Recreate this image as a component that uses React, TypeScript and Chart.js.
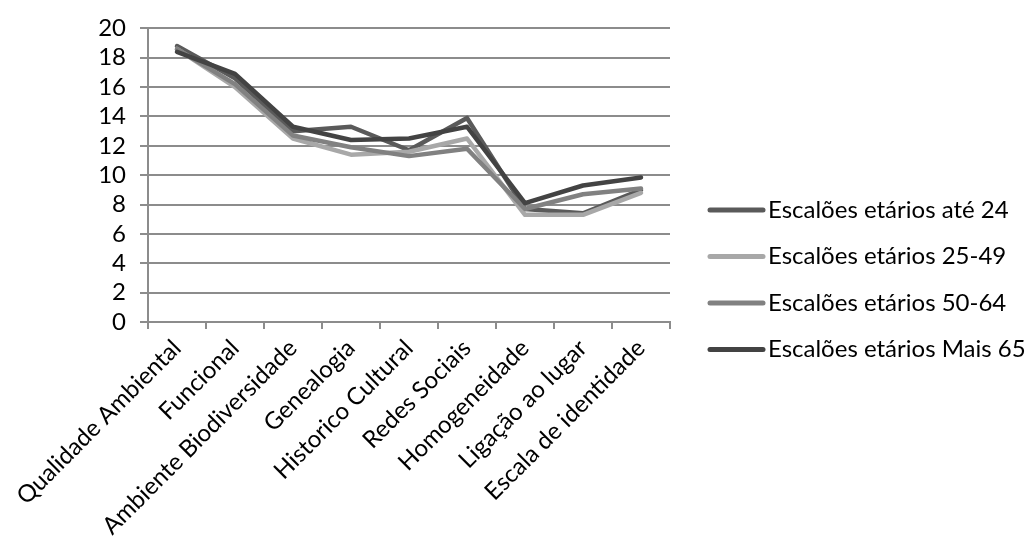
import React, { useEffect, useRef } from "react";
import { Chart, registerables } from "chart.js";

Chart.register(...registerables);

const categories = [
  "Qualidade Ambiental",
  "Funcional",
  "Ambiente Biodiversidade",
  "Genealogia",
  "Historico Cultural",
  "Redes Sociais",
  "Homogeneidade",
  "Ligação ao lugar",
  "Escala de identidade",
];

const seriesNames = [
  "Escalões etários até 24",
  "Escalões etários 25-49",
  "Escalões etários 50-64",
  "Escalões etários Mais 65",
];

const ate24 = [18.8, 16.6, 13.0, 13.3, 11.7, 13.9, 7.7, 7.4, 9.0];
const de25a49 = [18.6, 16.0, 12.5, 11.4, 11.6, 12.5, 7.3, 7.3, 8.8];
const de50a64 = [18.6, 16.2, 12.7, 11.9, 11.3, 11.8, 7.7, 8.7, 9.1];
const mais65 = [18.4, 16.9, 13.3, 12.4, 12.5, 13.3, 8.1, 9.3, 9.85];

const seriesValues = [ate24, de25a49, de50a64, mais65];
const seriesColors = ["#5a5a5a", "#a8a8a8", "#818181", "#434343"];

const yMin = 0;
const yMax = 20;
const yStep = 2;

const FONT = "Lato, 'Open Sans', sans-serif";
const FONT_SIZE = 24;

const legendPlugin = {
  id: "customLegend",
  afterDraw(chart: any) {
    const ctx = chart.ctx;
    const x0 = chart.chartArea.right + 38;
    const lineLen = 57;
    const startY = 210;
    const gap = 46.5;
    ctx.save();
    seriesNames.forEach((name, i) => {
      const y = startY + i * gap;
      ctx.strokeStyle = seriesColors[i];
      ctx.lineWidth = 5;
      ctx.lineCap = "round";
      ctx.beginPath();
      ctx.moveTo(x0 + 2, y);
      ctx.lineTo(x0 + lineLen - 2, y);
      ctx.stroke();
      ctx.fillStyle = "#000";
      ctx.font = `${FONT_SIZE}px ${FONT}`;
      ctx.textBaseline = "middle";
      ctx.textAlign = "left";
      ctx.fillText(name, x0 + lineLen + 3, y);
    });
    ctx.restore();
  },
};

export default function App() {
  const ref = useRef<HTMLCanvasElement | null>(null);

  useEffect(() => {
    if (!ref.current) return;
    const datasets = seriesNames.map((name, i) => ({
      label: name,
      data: seriesValues[i],
      borderColor: seriesColors[i],
      backgroundColor: seriesColors[i],
      borderWidth: 4.5,
      pointRadius: 0,
      tension: 0,
      fill: false,
      order: 3 - i,
      borderJoinStyle: "round" as const,
      borderCapStyle: "round" as const,
    }));

    const chart = new Chart(ref.current, {
      type: "line",
      data: { labels: categories, datasets },
      options: {
        animation: false,
        responsive: false,
        maintainAspectRatio: false,
        layout: { padding: { top: 24, right: 364, left: 0, bottom: 0 } },
        plugins: {
          legend: { display: false },
          tooltip: { enabled: false },
        },
        scales: {
          x: {
            type: "category",
            offset: true,
            grid: {
              offset: true,
              drawOnChartArea: false,
              drawTicks: true,
              tickLength: 7,
              color: "#8c8c8c",
              lineWidth: 2,
            },
            border: { color: "#8c8c8c", width: 2 },
            ticks: {
              autoSkip: false,
              minRotation: 45,
              maxRotation: 45,
              color: "#000",
              padding: 5,
              font: { family: FONT, size: FONT_SIZE },
            },
            afterFit(scale: any) {
              scale.height = 544 - 322;
            },
          },
          y: {
            min: yMin,
            max: yMax,
            ticks: {
              stepSize: yStep,
              autoSkip: false,
              color: "#000",
              padding: 14,
              font: { family: FONT, size: FONT_SIZE },
            },
            grid: {
              color: "#8c8c8c",
              lineWidth: 2,
              tickLength: 8,
            },
            border: { color: "#8c8c8c", width: 2 },
            afterFit(scale: any) {
              scale.width = 148;
            },
          },
        },
      },
      plugins: [legendPlugin],
    });
    return () => chart.destroy();
  }, []);

  return (
    <div style={{ position: "fixed", left: 0, top: 0, width: 1034, height: 544, background: "#fff" }}>
      <canvas ref={ref} width={1034} height={544} style={{ display: "block" }} />
    </div>
  );
}
